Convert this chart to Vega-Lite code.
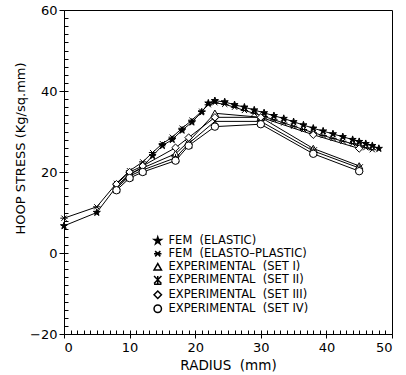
{
  "$schema": "https://vega.github.io/schema/vega-lite/v6.json",
  "width": 328,
  "height": 324,
  "autosize": {"type": "none"},
  "padding": {"left": 64, "top": 10, "right": 14, "bottom": 41},
  "background": "white",
  "config": {
    "view": {"stroke": "black", "strokeWidth": 1},
    "axis": {"domainColor": "black", "tickColor": "black", "labelColor": "black", "titleColor": "black", "labelFont": "DejaVu Sans", "titleFont": "DejaVu Sans", "labelFontSize": 13, "titleFontSize": 13, "titleFontWeight": "normal", "grid": false, "domainWidth": 1, "tickWidth": 1},
    "legend": {"labelFont": "DejaVu Sans", "labelFontSize": 11.5, "labelColor": "black", "rowPadding": 0, "padding": 0, "symbolSize": 55, "labelOffset": 5, "labelLimit": 300}
  },
  "data": {"values": [
    {"series": "FEM \u00a0(ELASTIC)", "radius": 0, "stress": 6.7},
    {"series": "FEM \u00a0(ELASTIC)", "radius": 5, "stress": 10},
    {"series": "FEM \u00a0(ELASTIC)", "radius": 8, "stress": 16.4},
    {"series": "FEM \u00a0(ELASTIC)", "radius": 10, "stress": 19.3},
    {"series": "FEM \u00a0(ELASTIC)", "radius": 12, "stress": 21.3},
    {"series": "FEM \u00a0(ELASTIC)", "radius": 13.5, "stress": 24},
    {"series": "FEM \u00a0(ELASTIC)", "radius": 15, "stress": 26.5},
    {"series": "FEM \u00a0(ELASTIC)", "radius": 16.5, "stress": 28},
    {"series": "FEM \u00a0(ELASTIC)", "radius": 18, "stress": 30.3},
    {"series": "FEM \u00a0(ELASTIC)", "radius": 19.5, "stress": 32.3},
    {"series": "FEM \u00a0(ELASTIC)", "radius": 21, "stress": 34.8},
    {"series": "FEM \u00a0(ELASTIC)", "radius": 22, "stress": 37},
    {"series": "FEM \u00a0(ELASTIC)", "radius": 23, "stress": 37.6},
    {"series": "FEM \u00a0(ELASTIC)", "radius": 24.5, "stress": 37.3},
    {"series": "FEM \u00a0(ELASTIC)", "radius": 26, "stress": 36.6},
    {"series": "FEM \u00a0(ELASTIC)", "radius": 27.5, "stress": 36},
    {"series": "FEM \u00a0(ELASTIC)", "radius": 29, "stress": 35.3},
    {"series": "FEM \u00a0(ELASTIC)", "radius": 30.5, "stress": 34.6},
    {"series": "FEM \u00a0(ELASTIC)", "radius": 32, "stress": 33.9},
    {"series": "FEM \u00a0(ELASTIC)", "radius": 33.5, "stress": 33.2},
    {"series": "FEM \u00a0(ELASTIC)", "radius": 35, "stress": 32.4},
    {"series": "FEM \u00a0(ELASTIC)", "radius": 36.5, "stress": 31.6},
    {"series": "FEM \u00a0(ELASTIC)", "radius": 38, "stress": 30.8},
    {"series": "FEM \u00a0(ELASTIC)", "radius": 39.5, "stress": 30.1},
    {"series": "FEM \u00a0(ELASTIC)", "radius": 41, "stress": 29.4},
    {"series": "FEM \u00a0(ELASTIC)", "radius": 42.5, "stress": 28.7},
    {"series": "FEM \u00a0(ELASTIC)", "radius": 44, "stress": 28},
    {"series": "FEM \u00a0(ELASTIC)", "radius": 45, "stress": 27.5},
    {"series": "FEM \u00a0(ELASTIC)", "radius": 46, "stress": 27},
    {"series": "FEM \u00a0(ELASTIC)", "radius": 47, "stress": 26.5},
    {"series": "FEM \u00a0(ELASTIC)", "radius": 48, "stress": 25.8},
    {"series": "FEM \u00a0(ELASTO\u2013PLASTIC)", "radius": 0, "stress": 8.6},
    {"series": "FEM \u00a0(ELASTO\u2013PLASTIC)", "radius": 5, "stress": 11.4},
    {"series": "FEM \u00a0(ELASTO\u2013PLASTIC)", "radius": 8, "stress": 17.2},
    {"series": "FEM \u00a0(ELASTO\u2013PLASTIC)", "radius": 10, "stress": 20.3},
    {"series": "FEM \u00a0(ELASTO\u2013PLASTIC)", "radius": 12, "stress": 22.5},
    {"series": "FEM \u00a0(ELASTO\u2013PLASTIC)", "radius": 13.5, "stress": 24.8},
    {"series": "FEM \u00a0(ELASTO\u2013PLASTIC)", "radius": 15, "stress": 27},
    {"series": "FEM \u00a0(ELASTO\u2013PLASTIC)", "radius": 16.5, "stress": 28.6},
    {"series": "FEM \u00a0(ELASTO\u2013PLASTIC)", "radius": 18, "stress": 30.8},
    {"series": "FEM \u00a0(ELASTO\u2013PLASTIC)", "radius": 19.5, "stress": 32.8},
    {"series": "FEM \u00a0(ELASTO\u2013PLASTIC)", "radius": 21, "stress": 35},
    {"series": "FEM \u00a0(ELASTO\u2013PLASTIC)", "radius": 22, "stress": 36.6},
    {"series": "FEM \u00a0(ELASTO\u2013PLASTIC)", "radius": 23, "stress": 37.1},
    {"series": "FEM \u00a0(ELASTO\u2013PLASTIC)", "radius": 24.5, "stress": 36.7},
    {"series": "FEM \u00a0(ELASTO\u2013PLASTIC)", "radius": 26, "stress": 36},
    {"series": "FEM \u00a0(ELASTO\u2013PLASTIC)", "radius": 27.5, "stress": 35.2},
    {"series": "FEM \u00a0(ELASTO\u2013PLASTIC)", "radius": 29, "stress": 34.5},
    {"series": "FEM \u00a0(ELASTO\u2013PLASTIC)", "radius": 30.5, "stress": 33.7},
    {"series": "FEM \u00a0(ELASTO\u2013PLASTIC)", "radius": 32, "stress": 32.9},
    {"series": "FEM \u00a0(ELASTO\u2013PLASTIC)", "radius": 33.5, "stress": 32.1},
    {"series": "FEM \u00a0(ELASTO\u2013PLASTIC)", "radius": 35, "stress": 31.3},
    {"series": "FEM \u00a0(ELASTO\u2013PLASTIC)", "radius": 36.5, "stress": 30.5},
    {"series": "FEM \u00a0(ELASTO\u2013PLASTIC)", "radius": 38, "stress": 29.7},
    {"series": "FEM \u00a0(ELASTO\u2013PLASTIC)", "radius": 39.5, "stress": 29},
    {"series": "FEM \u00a0(ELASTO\u2013PLASTIC)", "radius": 41, "stress": 28.3},
    {"series": "FEM \u00a0(ELASTO\u2013PLASTIC)", "radius": 42.5, "stress": 27.6},
    {"series": "FEM \u00a0(ELASTO\u2013PLASTIC)", "radius": 44, "stress": 27},
    {"series": "FEM \u00a0(ELASTO\u2013PLASTIC)", "radius": 45, "stress": 26.5},
    {"series": "FEM \u00a0(ELASTO\u2013PLASTIC)", "radius": 46, "stress": 26},
    {"series": "FEM \u00a0(ELASTO\u2013PLASTIC)", "radius": 47, "stress": 25.5},
    {"series": "EXPERIMENTAL \u00a0(SET I)", "radius": 8, "stress": 16.5},
    {"series": "EXPERIMENTAL \u00a0(SET I)", "radius": 10, "stress": 19.5},
    {"series": "EXPERIMENTAL \u00a0(SET I)", "radius": 12, "stress": 21},
    {"series": "EXPERIMENTAL \u00a0(SET I)", "radius": 17, "stress": 24.5},
    {"series": "EXPERIMENTAL \u00a0(SET I)", "radius": 19, "stress": 27.5},
    {"series": "EXPERIMENTAL \u00a0(SET I)", "radius": 23, "stress": 34.5},
    {"series": "EXPERIMENTAL \u00a0(SET I)", "radius": 30, "stress": 33.5},
    {"series": "EXPERIMENTAL \u00a0(SET I)", "radius": 38, "stress": 25.8},
    {"series": "EXPERIMENTAL \u00a0(SET I)", "radius": 45, "stress": 21.5},
    {"series": "EXPERIMENTAL \u00a0(SET II)", "radius": 8, "stress": 16},
    {"series": "EXPERIMENTAL \u00a0(SET II)", "radius": 10, "stress": 19},
    {"series": "EXPERIMENTAL \u00a0(SET II)", "radius": 12, "stress": 20.5},
    {"series": "EXPERIMENTAL \u00a0(SET II)", "radius": 17, "stress": 23.5},
    {"series": "EXPERIMENTAL \u00a0(SET II)", "radius": 19, "stress": 27},
    {"series": "EXPERIMENTAL \u00a0(SET II)", "radius": 23, "stress": 32.5},
    {"series": "EXPERIMENTAL \u00a0(SET II)", "radius": 30, "stress": 32.5},
    {"series": "EXPERIMENTAL \u00a0(SET II)", "radius": 38, "stress": 25.2},
    {"series": "EXPERIMENTAL \u00a0(SET II)", "radius": 45, "stress": 21},
    {"series": "EXPERIMENTAL \u00a0(SET III)", "radius": 8, "stress": 17},
    {"series": "EXPERIMENTAL \u00a0(SET III)", "radius": 10, "stress": 20},
    {"series": "EXPERIMENTAL \u00a0(SET III)", "radius": 12, "stress": 21.5},
    {"series": "EXPERIMENTAL \u00a0(SET III)", "radius": 17, "stress": 26},
    {"series": "EXPERIMENTAL \u00a0(SET III)", "radius": 19, "stress": 28.5},
    {"series": "EXPERIMENTAL \u00a0(SET III)", "radius": 23, "stress": 33.5},
    {"series": "EXPERIMENTAL \u00a0(SET III)", "radius": 30, "stress": 33.5},
    {"series": "EXPERIMENTAL \u00a0(SET III)", "radius": 38, "stress": 29.2},
    {"series": "EXPERIMENTAL \u00a0(SET III)", "radius": 45, "stress": 25.8},
    {"series": "EXPERIMENTAL \u00a0(SET IV)", "radius": 8, "stress": 15.5},
    {"series": "EXPERIMENTAL \u00a0(SET IV)", "radius": 10, "stress": 18.5},
    {"series": "EXPERIMENTAL \u00a0(SET IV)", "radius": 12, "stress": 20},
    {"series": "EXPERIMENTAL \u00a0(SET IV)", "radius": 17, "stress": 22.8},
    {"series": "EXPERIMENTAL \u00a0(SET IV)", "radius": 19, "stress": 26.5},
    {"series": "EXPERIMENTAL \u00a0(SET IV)", "radius": 23, "stress": 31.2},
    {"series": "EXPERIMENTAL \u00a0(SET IV)", "radius": 30, "stress": 31.8},
    {"series": "EXPERIMENTAL \u00a0(SET IV)", "radius": 38, "stress": 24.5},
    {"series": "EXPERIMENTAL \u00a0(SET IV)", "radius": 45, "stress": 20.2}
  ]},
  "layer": [
    {
      "mark": {"type": "line", "color": "black", "strokeWidth": 1},
      "encoding": {
        "x": {"field": "radius", "type": "quantitative", "scale": {"domain": [0, 50], "nice": false, "zero": false},
          "axis": {"orient": "bottom", "values": [0, 10, 20, 30, 40, 50], "tickSize": 4, "labelPadding": 3, "title": "RADIUS \u00a0(mm)", "titleFontSize": 13.5, "titlePadding": 4}},
        "y": {"field": "stress", "type": "quantitative", "scale": {"domain": [-20, 60], "nice": false, "zero": false},
          "axis": {"orient": "left", "values": [-20, 0, 20, 40, 60], "tickSize": 5, "labelPadding": 2, "title": "HOOP STRESS (Kg/sq.mm)", "titleX": -44, "titleY": 138, "titleAlign": "center", "titleBaseline": "middle", "titleAngle": -90}},
        "detail": {"field": "series", "type": "nominal"}
      }
    },
    {
      "mark": {"type": "point", "filled": true, "stroke": "black", "strokeWidth": 1, "size": 55, "opacity": 1},
      "encoding": {
        "x": {"field": "radius", "type": "quantitative",
          "axis": {"orient": "bottom", "values": [1,2,3,4,5,6,7,8,9,10,11,12,13,14,15,16,17,18,19,20,21,22,23,24,25,26,27,28,29,30,31,32,33,34,35,36,37,38,39,40,41,42,43,44,45,46,47,48,49], "tickSize": -4, "labels": false, "domain": false, "title": null}},
        "y": {"field": "stress", "type": "quantitative",
          "axis": {"orient": "left", "values": [-18,-16,-14,-12,-10,-8,-6,-4,-2,0,2,4,6,8,10,12,14,16,18,20,22,24,26,28,30,32,34,36,38,40,42,44,46,48,50,52,54,56,58], "tickSize": -4, "labels": false, "domain": false, "title": null}},
        "shape": {"field": "series", "type": "nominal",
          "scale": {"domain": ["FEM \u00a0(ELASTIC)", "FEM \u00a0(ELASTO\u2013PLASTIC)", "EXPERIMENTAL \u00a0(SET I)", "EXPERIMENTAL \u00a0(SET II)", "EXPERIMENTAL \u00a0(SET III)", "EXPERIMENTAL \u00a0(SET IV)"],
            "range": ["M0,-1L0.2245,-0.309L0.951,-0.309L0.363,0.118L0.588,0.809L0,0.382L-0.588,0.809L-0.363,0.118L-0.951,-0.309L-0.2245,-0.309Z", "M-1,0L1,0M-0.7,-0.7L0.7,0.7M-0.7,0.7L0.7,-0.7", "triangle-up", "M-1,-1L1,1M-1,1L1,-1M0,-1L0,1M-1,1.2L1,1.2", "diamond", "circle"]},
          "legend": {"title": null, "orient": "none", "legendX": 88, "legendY": 225,
            "encode": {"symbols": {"update": {"stroke": {"value": "black"}, "strokeWidth": {"value": 1}, "fill": {"scale": "fill", "field": "value"}, "opacity": {"value": 1}}}}}},
        "fill": {"field": "series", "type": "nominal",
          "scale": {"domain": ["FEM \u00a0(ELASTIC)", "FEM \u00a0(ELASTO\u2013PLASTIC)", "EXPERIMENTAL \u00a0(SET I)", "EXPERIMENTAL \u00a0(SET II)", "EXPERIMENTAL \u00a0(SET III)", "EXPERIMENTAL \u00a0(SET IV)"],
            "range": ["black", "white", "white", "black", "white", "white"]},
          "legend": null}
      }
    }
  ],
  "resolve": {"axis": {"x": "independent", "y": "independent"}}
}
